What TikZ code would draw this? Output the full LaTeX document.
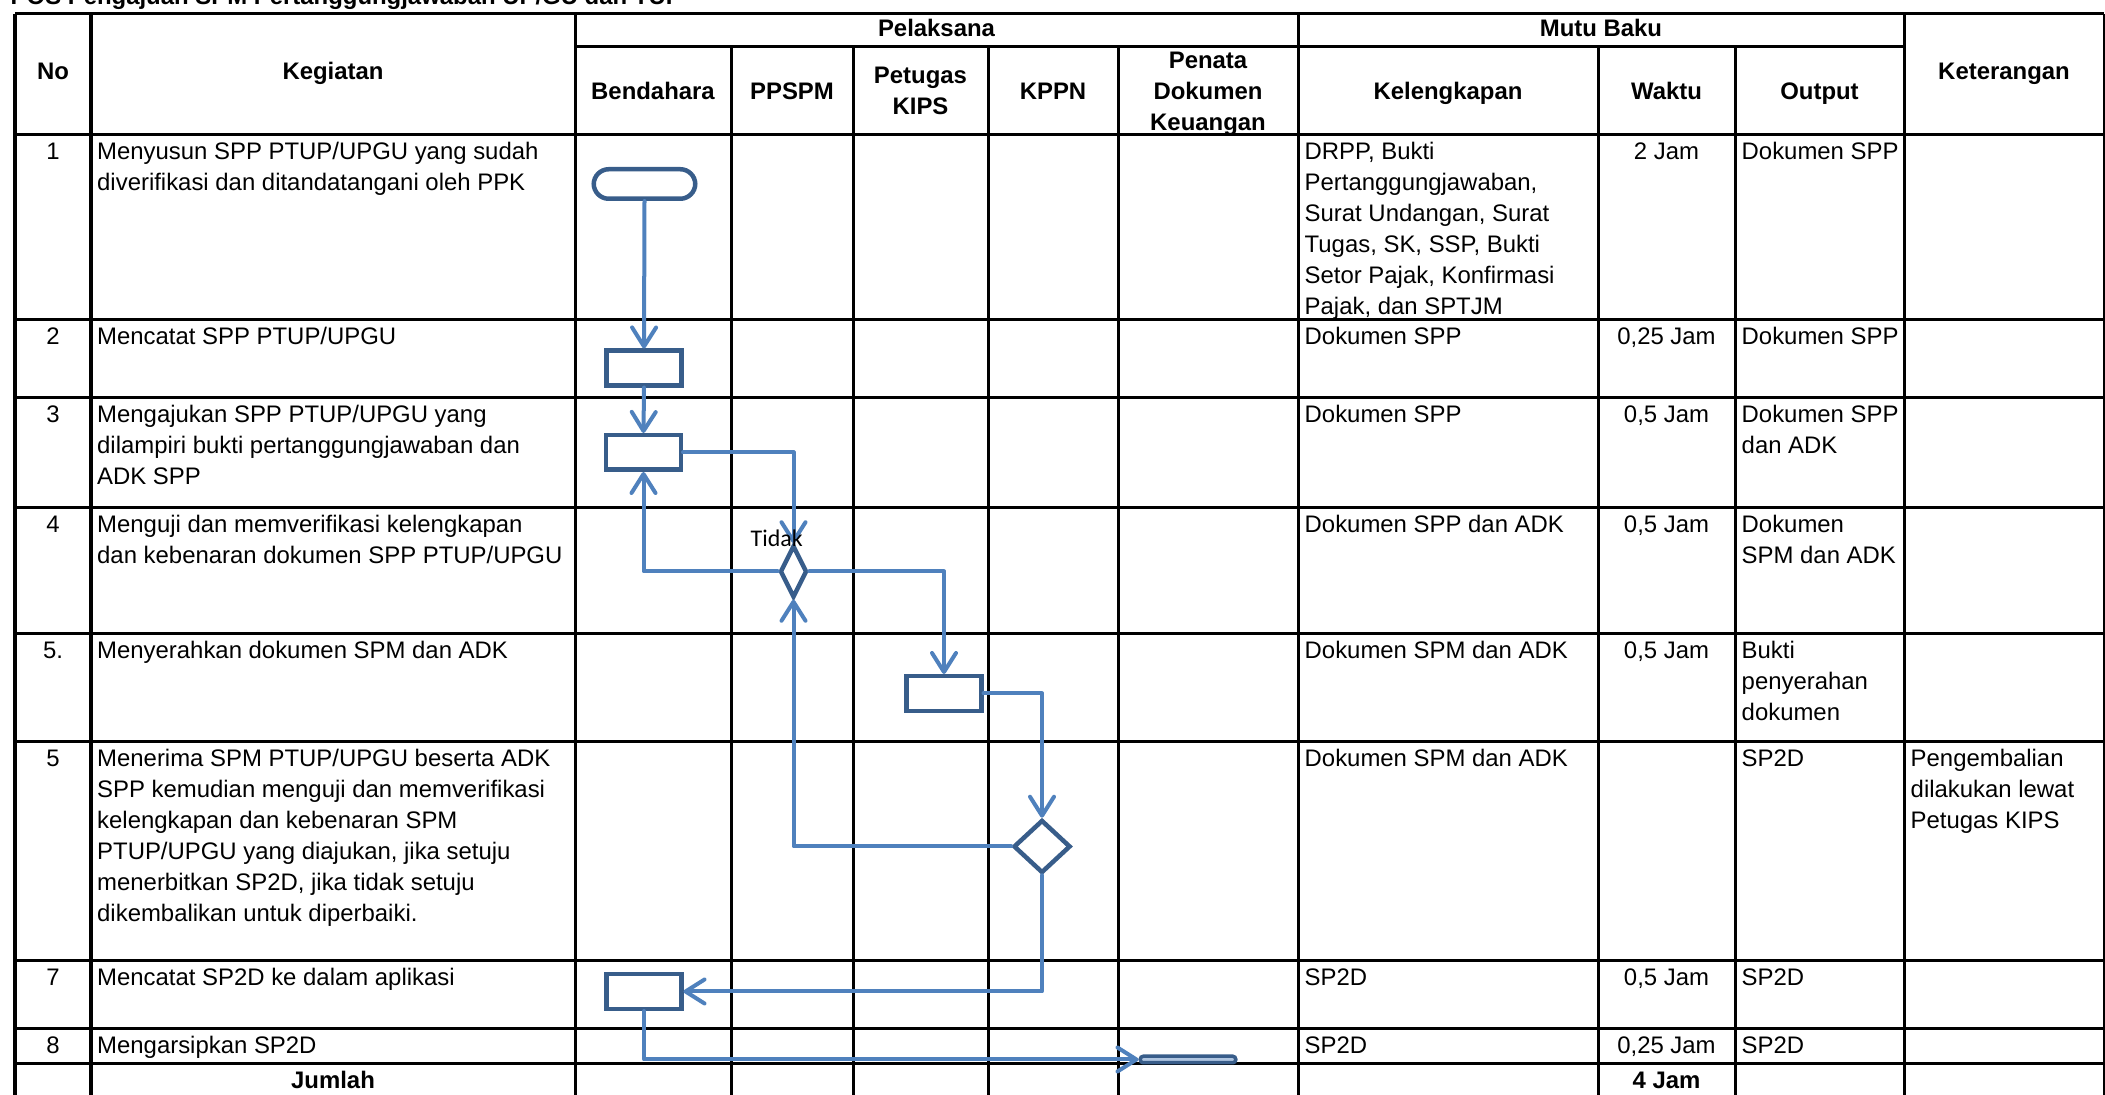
\documentclass[tikz,border=0pt]{standalone}
\usepackage{fontspec}
\setmainfont{Liberation Sans}
\newfontfamily\tidakfont{Carlito}
\usetikzlibrary{arrows.meta}
\usetikzlibrary{shapes.geometric}

\definecolor{flowline}{RGB}{79,129,189}
\definecolor{flowedge}{RGB}{56,93,138}

% rows of a cell, baseline on the first row
\newcommand{\cellrows}[1]{\begin{tabular}[t]{@{}l@{}}#1\end{tabular}}
\newcommand{\headrows}[1]{\begin{tabular}[t]{@{}c@{}}#1\end{tabular}}

\tikzset{
  tabline/.style={black,line width=0.03cm},
  cell/.style={inner sep=0pt,anchor=base west,font=\fontsize{6.8}{8.8}\selectfont},
  numcell/.style={inner sep=0pt,anchor=base,font=\fontsize{6.8}{8.8}\selectfont},
  headcell/.style={inner sep=0pt,anchor=base,font=\fontsize{6.8}{8.8}\selectfont\bfseries},
  procbox/.style={draw=flowedge,line width=0.045cm,fill=white,minimum width=0.745cm,minimum height=0.345cm,inner sep=0pt},
  termbox/.style={procbox,rounded corners=0.15cm,minimum width=1.015cm,minimum height=0.295cm},
  stopbox/.style={draw=flowedge,line width=0.035cm,fill=flowline!45!white,rounded corners=0.03cm,minimum width=0.955cm,minimum height=0.065cm,inner sep=0pt},
  decbox/.style={diamond,draw=flowedge,line width=0.045cm,fill=white,inner sep=0pt},
  flow/.style={draw=flowline,line width=0.04cm,line cap=round,line join=round,-{Straight Barb[length=0.19cm,width=0.24cm,round]}}
}

\begin{document}
\begin{tikzpicture}[x=0.01cm,y=-0.01cm]
\useasboundingbox (0,0) rectangle (2105,1095);
\clip (0,0) rectangle (2105,1095);

\node[cell,font=\fontsize{6.8}{8.8}\selectfont\bfseries] (title) at (10,5) {POS Pengajuan SPM Pertanggungjawaban UP/GU dan TUP};

\draw[tabline] (15,14) -- (2104,14);
\draw[tabline] (575,47) -- (1904,47);
\draw[tabline] (15,135) -- (2104,135);
\draw[tabline] (15,320) -- (2104,320);
\draw[tabline] (15,398) -- (2104,398);
\draw[tabline] (15,508) -- (2104,508);
\draw[tabline] (15,634) -- (2104,634);
\draw[tabline] (15,742) -- (2104,742);
\draw[tabline] (15,961) -- (2104,961);
\draw[tabline] (15,1029) -- (2104,1029);
\draw[tabline] (15,1064) -- (2104,1064);
\draw[tabline] (15,14) -- (15,1110);
\draw[tabline] (91,14) -- (91,1110);
\draw[tabline] (575,14) -- (575,1110);
\draw[tabline] (731,47) -- (731,1110);
\draw[tabline] (853,47) -- (853,1110);
\draw[tabline] (988,47) -- (988,1110);
\draw[tabline] (1118,47) -- (1118,1110);
\draw[tabline] (1298,14) -- (1298,1110);
\draw[tabline] (1598,47) -- (1598,1110);
\draw[tabline] (1735,47) -- (1735,1110);
\draw[tabline] (1904,14) -- (1904,1110);
\draw[tabline] (2104,14) -- (2104,1110);

\node[headcell] (hno) at (53,80) {No};
\node[headcell] (hkeg) at (333,80) {Kegiatan};
\node[headcell] (hpel) at (936.5,37) {Pelaksana};
\node[headcell] (hmutu) at (1601,37) {Mutu Baku};
\node[headcell] (hket) at (2004,80) {Keterangan};
\node[headcell] (hbend) at (653,100) {Bendahara};
\node[headcell] (hppspm) at (792,100) {PPSPM};
\node[headcell] (hkips) at (920.5,84) {\headrows{Petugas\\KIPS}};
\node[headcell] (hkppn) at (1053,100) {KPPN};
\node[headcell] (hpenata) at (1208,69) {\headrows{Penata\\Dokumen\\Keuangan}};
\node[headcell] (hkel) at (1448,100) {Kelengkapan};
\node[headcell] (hwaktu) at (1666.5,100) {Waktu};
\node[headcell] (hout) at (1819.5,100) {Output};

\node[numcell] (n1) at (53,160) {1};
\node[cell] (k1) at (96.5,160) {\cellrows{Menyusun SPP PTUP/UPGU yang sudah\\diverifikasi dan ditandatangani oleh PPK}};
\node[cell] (l1) at (1304,160) {\cellrows{DRPP, Bukti\\Pertanggungjawaban,\\Surat Undangan, Surat\\Tugas, SK, SSP, Bukti\\Setor Pajak, Konfirmasi\\Pajak, dan SPTJM}};
\node[numcell] (w1) at (1666.5,160) {2 Jam};
\node[cell] (o1) at (1741,160) {Dokumen SPP};

\node[numcell] (n2) at (53,345) {2};
\node[cell] (k2) at (96.5,345) {Mencatat SPP PTUP/UPGU};
\node[cell] (l2) at (1304,345) {Dokumen SPP};
\node[numcell] (w2) at (1666.5,345) {0,25 Jam};
\node[cell] (o2) at (1741,345) {Dokumen SPP};

\node[numcell] (n3) at (53,423) {3};
\node[cell] (k3) at (96.5,423) {\cellrows{Mengajukan SPP PTUP/UPGU yang\\dilampiri bukti pertanggungjawaban dan\\ADK SPP}};
\node[cell] (l3) at (1304,423) {Dokumen SPP};
\node[numcell] (w3) at (1666.5,423) {0,5 Jam};
\node[cell] (o3) at (1741,423) {\cellrows{Dokumen SPP\\dan ADK}};

\node[numcell] (n4) at (53,533) {4};
\node[cell] (k4) at (96.5,533) {\cellrows{Menguji dan memverifikasi kelengkapan\\dan kebenaran dokumen SPP PTUP/UPGU}};
\node[cell] (l4) at (1304,533) {Dokumen SPP dan ADK};
\node[numcell] (w4) at (1666.5,533) {0,5 Jam};
\node[cell] (o4) at (1741,533) {\cellrows{Dokumen\\SPM dan ADK}};

\node[numcell] (n5) at (53,659) {5.};
\node[cell] (k5) at (96.5,659) {Menyerahkan dokumen SPM dan ADK};
\node[cell] (l5) at (1304,659) {Dokumen SPM dan ADK};
\node[numcell] (w5) at (1666.5,659) {0,5 Jam};
\node[cell] (o5) at (1741,659) {\cellrows{Bukti\\penyerahan\\dokumen}};

\node[numcell] (n6) at (53,767) {5};
\node[cell] (k6) at (96.5,767) {\cellrows{Menerima SPM PTUP/UPGU beserta ADK\\SPP kemudian menguji dan memverifikasi\\kelengkapan dan kebenaran SPM\\PTUP/UPGU yang diajukan, jika setuju\\menerbitkan SP2D, jika tidak setuju\\dikembalikan untuk diperbaiki.}};
\node[cell] (l6) at (1304,767) {Dokumen SPM dan ADK};
\node[cell] (o6) at (1741,767) {SP2D};
\node[cell] (ket6) at (1910,767) {\cellrows{Pengembalian\\dilakukan lewat\\Petugas KIPS}};

\node[numcell] (n7) at (53,986) {7};
\node[cell] (k7) at (96.5,986) {Mencatat SP2D ke dalam aplikasi};
\node[cell] (l7) at (1304,986) {SP2D};
\node[numcell] (w7) at (1666.5,986) {0,5 Jam};
\node[cell] (o7) at (1741,986) {SP2D};

\node[numcell] (n8) at (53,1054) {8};
\node[cell] (k8) at (96.5,1054) {Mengarsipkan SP2D};
\node[cell] (l8) at (1304,1054) {SP2D};
\node[numcell] (w8) at (1666.5,1054) {0,25 Jam};
\node[cell] (o8) at (1741,1054) {SP2D};

\node[headcell] (jumlah) at (333,1089) {Jumlah};
\node[headcell] (total) at (1666.5,1089) {4 Jam};

\node[termbox] (start) at (644.5,184) {};
\node[procbox] (catat) at (644,368) {};
\node[procbox] (aju) at (643.5,452.5) {};
\node[decbox,minimum width=0.27cm,minimum height=0.52cm] (uji) at (793.5,571.5) {};
\node[procbox] (serah) at (944,693.5) {};
\node[decbox,minimum width=0.57cm,minimum height=0.53cm] (terima) at (1042,846.5) {};
\node[procbox] (catatsp) at (644,991.5) {};
\node[stopbox] (arsip) at (1188,1059.5) {};

\draw[flow] (start.south) -- (catat.north);
\draw[flow] (catat.south) -- (aju.north);
\draw[flow] (aju.east) -| (uji.north);
\draw[flow] (uji.west) -| (aju.south);
\draw[flow] (uji.east) -| (serah.north);
\draw[flow] (serah.east) -| (terima.north);
\draw[flow] (terima.west) -| (uji.south);
\draw[flow] (terima.south) |- (catatsp.east);
\draw[flow] (catatsp.south) |- (arsip.west);

\node[inner sep=0pt,anchor=base west,font=\tidakfont\fontsize{6.8}{8.8}\selectfont] (tidak) at (750,547) {Tidak};

\end{tikzpicture}
\end{document}
